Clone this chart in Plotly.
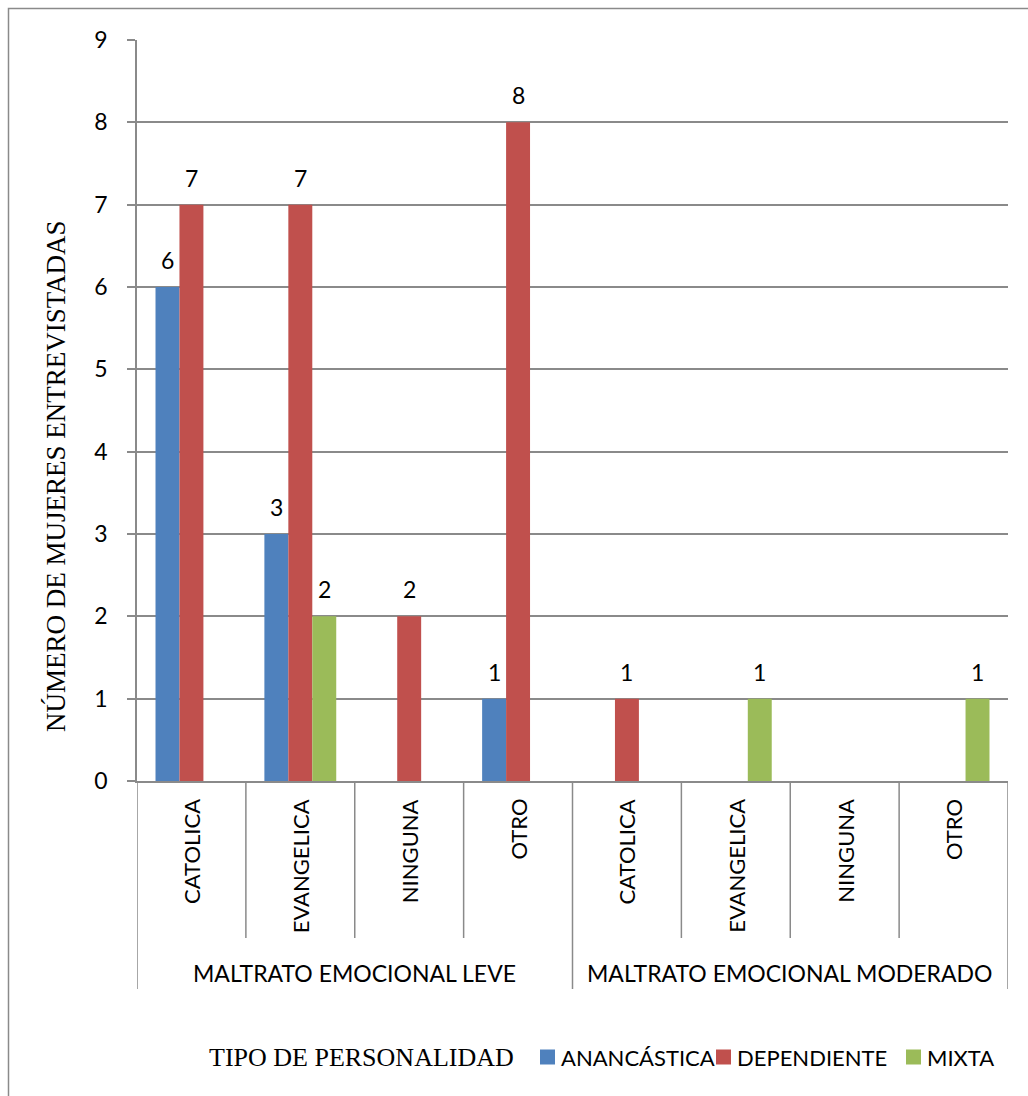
import plotly.graph_objects as go

groups = ["MALTRATO EMOCIONAL LEVE", "MALTRATO EMOCIONAL MODERADO"]
religions = ["CATOLICA", "EVANGELICA", "NINGUNA", "OTRO"]
series_names = ["ANANCÁSTICA", "DEPENDIENTE", "MIXTA"]
anancastica = [6, 3, 0, 1, 0, 0, 0, 0]
dependiente = [7, 7, 2, 8, 1, 0, 0, 0]
mixta = [0, 2, 0, 0, 0, 1, 0, 1]
y_ticks = [0, 1, 2, 3, 4, 5, 6, 7, 8, 9]
y_title = "NÚMERO DE MUJERES ENTREVISTADAS"
legend_title = "TIPO DE PERSONALIDAD"

colors = ["#4F81BD", "#C0504D", "#9BBB59"]
series_values = [anancastica, dependiente, mixta]
categories = [(g, r) for g in groups for r in religions]
n_cat = len(categories)
pos = [i + 0.5 for i in range(n_cat)]

SANS = "Lato, 'Open Sans', sans-serif"
SERIF = "'Liberation Serif', 'Times New Roman', serif"
GRAY = "#8A8A8A"

W, H = 1028, 1096
L, R, T, B = 137, 1008, 40, 781
pw, ph = R - L, B - T

def px_x(x):
    return (x - L) / pw

def px_y(y):
    return (B - y) / ph

bar_w = 0.22
base_off = -1.5 * bar_w

fig = go.Figure()
annotations = []
for j, (name, vals, col) in enumerate(zip(series_names, series_values, colors)):
    off = base_off + j * bar_w
    fig.add_trace(go.Bar(
        x=pos, y=vals, name=name, width=bar_w, offset=off,
        marker=dict(color=col, line=dict(width=0)), showlegend=False,
        hoverinfo="x+y+name",
    ))
    for p, v in zip(pos, vals):
        if v > 0:
            annotations.append(dict(
                x=p + off + bar_w / 2, y=v, xref="x", yref="y", text=str(v),
                showarrow=False, yanchor="middle", yshift=27,
                font=dict(family=SANS, size=23, color="black"),
            ))

shapes = []
# outer chart border
shapes.append(dict(type="rect", xref="paper", yref="paper",
                   x0=px_x(8.5), x1=px_x(1040), y0=px_y(8.5), y1=px_y(1110),
                   line=dict(color=GRAY, width=1.5), fillcolor="rgba(0,0,0,0)", layer="below"))
# category dividers
for i in range(n_cat + 1):
    is_group = (i % len(religions) == 0)
    y_end = 989 if is_group else 938
    shapes.append(dict(type="line", xref="x", yref="paper",
                       x0=i, x1=i, y0=0, y1=px_y(y_end),
                       line=dict(color=GRAY, width=1.5)))

# category labels
for p, (g, r) in zip(pos, categories):
    annotations.append(dict(
        x=p, y=px_y(797), xref="x", yref="paper", text=r, textangle=-90,
        showarrow=False, xanchor="center", yanchor="top",
        font=dict(family=SANS, size=22, color="black"),
    ))
# group labels
for gi, g in enumerate(groups):
    c = gi * len(religions) + len(religions) / 2
    annotations.append(dict(
        x=c, y=px_y(973), xref="x", yref="paper", text=g,
        showarrow=False, xanchor="center", yanchor="middle",
        font=dict(family=SANS, size=23, color="black"),
    ))
# y title
annotations.append(dict(
    x=px_x(56), y=px_y(476), xref="paper", yref="paper", text=y_title, textangle=-90,
    showarrow=False, xanchor="center", yanchor="middle",
    font=dict(family=SERIF, size=27, color="black"),
))
# legend (manual)
leg_y = 1057
annotations.append(dict(
    x=px_x(207), y=px_y(leg_y), xref="paper", yref="paper", text=legend_title,
    showarrow=False, xanchor="left", yanchor="middle",
    font=dict(family=SERIF, size=26, color="black"),
))
sq_x = [540, 716, 906]
for name, col, sx in zip(series_names, colors, sq_x):
    shapes.append(dict(type="rect", xref="paper", yref="paper",
                       x0=px_x(sx), x1=px_x(sx + 15), y0=px_y(leg_y - 7.5), y1=px_y(leg_y + 7.5),
                       line=dict(width=0), fillcolor=col))
    annotations.append(dict(
        x=px_x(sx + 19), y=px_y(leg_y), xref="paper", yref="paper", text=name,
        showarrow=False, xanchor="left", yanchor="middle",
        font=dict(family=SANS, size=22, color="black"),
    ))

fig.update_layout(
    width=W, height=H,
    margin=dict(l=L, r=W - R, t=T, b=H - B, pad=0),
    paper_bgcolor="white", plot_bgcolor="white",
    barmode="overlay",
    shapes=shapes, annotations=annotations,
    xaxis=dict(range=[0, n_cat], showticklabels=False, ticks="", showgrid=False,
               zeroline=False, showline=True, linecolor=GRAY, linewidth=1.5, fixedrange=True),
    yaxis=dict(range=[0, 9], tickvals=y_ticks, ticktext=[str(t) for t in y_ticks],
               showgrid=True, gridcolor=GRAY, gridwidth=1.5, zeroline=False,
               showline=True, linecolor=GRAY, linewidth=1.5,
               ticks="outside", ticklen=8, tickcolor=GRAY, tickwidth=1.5,
               tickfont=dict(family=SANS, size=23, color="black"), ticklabelstandoff=15,
               fixedrange=True),
    showlegend=False,
)

fig.write_html("out.html")
